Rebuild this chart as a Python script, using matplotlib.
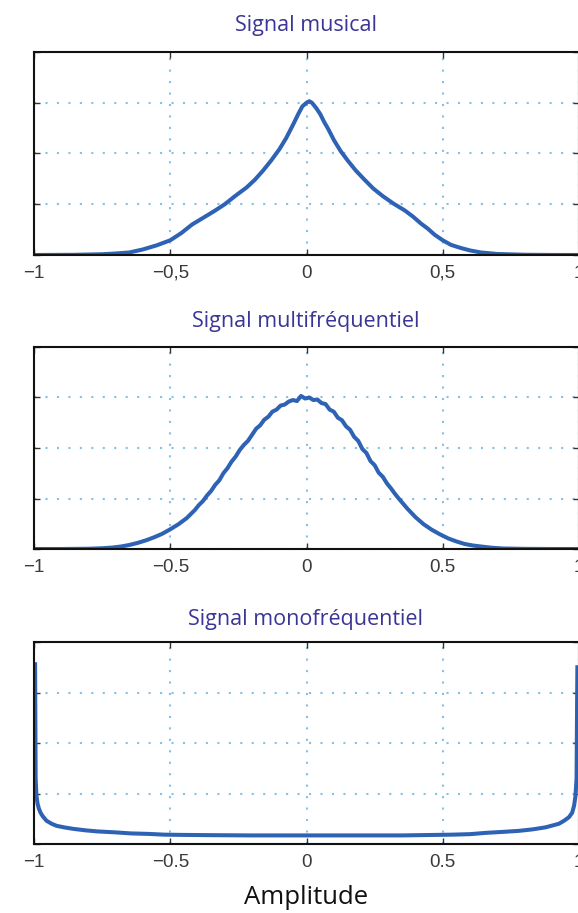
import matplotlib
matplotlib.use("Agg")
import matplotlib.pyplot as plt

# --- data (amplitude histograms, arbitrary y units 0..4)
titles = ["Signal musical", "Signal multifréquentiel", "Signal monofréquentiel"]
x_ticks = [-1, -0.5, 0, 0.5, 1]
tick_labels_comma = ["−1", "−0,5", "0", "0,5", "1"]
tick_labels_point = ["−1", "−0.5", "0", "0.5", "1"]

x_music = [-1.0, -0.85, -0.75, -0.7, -0.65, -0.6, -0.55, -0.5, -0.46, -0.42,
           -0.38, -0.34, -0.3, -0.26, -0.22, -0.19, -0.16, -0.13, -0.1, -0.075,
           -0.05, -0.03, -0.015, 0.0, 0.01, 0.02, 0.035, 0.05, 0.065, 0.08,
           0.1, 0.125, 0.15, 0.18, 0.21, 0.245, 0.28, 0.32, 0.36, 0.39,
           0.42, 0.445, 0.47, 0.5, 0.53, 0.565, 0.6, 0.64, 0.7, 0.8, 0.9, 1.0]
y_music = [0.0, 0.004, 0.015, 0.03, 0.05, 0.11, 0.19, 0.29, 0.43, 0.6,
           0.73, 0.86, 1.0, 1.17, 1.33, 1.48, 1.66, 1.86, 2.08, 2.3,
           2.56, 2.78, 2.93, 3.0, 3.03, 3.0, 2.9, 2.78, 2.62, 2.48,
           2.27, 2.05, 1.87, 1.67, 1.5, 1.31, 1.16, 1.01, 0.88, 0.76,
           0.62, 0.52, 0.4, 0.29, 0.2, 0.14, 0.09, 0.05, 0.02, 0.005, 0.001, 0.0]

x_multi = [-1.0, -0.9, -0.8, -0.75, -0.71, -0.68, -0.65, -0.62, -0.59, -0.56,
           -0.53, -0.5, -0.47, -0.44, -0.41, -0.395, -0.38, -0.365, -0.35, -0.335,
           -0.32, -0.305, -0.29, -0.275, -0.26, -0.245, -0.23, -0.215, -0.2, -0.185,
           -0.17, -0.155, -0.14, -0.125, -0.11, -0.095, -0.08, -0.065, -0.05, -0.035,
           -0.02, -0.005, 0.01, 0.025, 0.04, 0.055, 0.07, 0.085, 0.1, 0.115,
           0.13, 0.145, 0.16, 0.175, 0.19, 0.205, 0.22, 0.235, 0.25, 0.265,
           0.28, 0.295, 0.31, 0.325, 0.34, 0.37, 0.4, 0.43, 0.46, 0.49,
           0.52, 0.55, 0.58, 0.61, 0.64, 0.68, 0.72, 0.8, 0.9, 1.0]
y_multi = [0.0, 0.0, 0.005, 0.015, 0.03, 0.05, 0.08, 0.12, 0.17, 0.23,
           0.3, 0.39, 0.49, 0.61, 0.77, 0.87, 0.95, 1.06, 1.15, 1.27,
           1.36, 1.5, 1.6, 1.73, 1.83, 1.96, 2.06, 2.14, 2.26, 2.38,
           2.45, 2.56, 2.62, 2.72, 2.76, 2.84, 2.86, 2.92, 2.95, 2.93,
           3.03, 2.98, 3.0, 2.95, 2.96, 2.89, 2.87, 2.76, 2.72, 2.6,
           2.55, 2.43, 2.36, 2.22, 2.14, 1.98, 1.9, 1.74, 1.66, 1.51,
           1.43, 1.3, 1.2, 1.09, 0.99, 0.8, 0.63, 0.49, 0.38, 0.29,
           0.21, 0.15, 0.1, 0.07, 0.05, 0.025, 0.01, 0.003, 0.0, 0.0]

x_mono = [-0.996, -0.994, -0.991, -0.987, -0.982, -0.976, -0.968, -0.954, -0.935, -0.917,
          -0.89, -0.856, -0.81, -0.769, -0.7, -0.646, -0.58, -0.522, -0.45, -0.35,
          -0.2, 0.0, 0.2, 0.35, 0.412, 0.534, 0.6, 0.657, 0.72, 0.779,
          0.83, 0.877, 0.905, 0.926, 0.945, 0.963, 0.975, 0.982, 0.987, 0.991, 0.994]
y_mono = [3.56, 1.3, 0.95, 0.8, 0.7, 0.62, 0.55, 0.46, 0.4, 0.36,
          0.33, 0.3, 0.27, 0.25, 0.23, 0.21, 0.2, 0.185, 0.18, 0.175,
          0.17, 0.17, 0.17, 0.17, 0.175, 0.185, 0.195, 0.22, 0.24, 0.26,
          0.29, 0.33, 0.37, 0.4, 0.46, 0.53, 0.62, 0.76, 0.95, 1.3, 3.5]

series = [(x_music, y_music, tick_labels_comma),
          (x_multi, y_multi, tick_labels_point),
          (x_mono, y_mono, tick_labels_point)]

W, H = 578, 913
fig = plt.figure(figsize=(W / 100, H / 100), dpi=100)

# axes boxes in pixels: (top, bottom)
boxes = [(52, 255), (347, 549), (642, 844)]
title_y = [25, 322, 619]
left_px, right_px = 34, 579

line_color = "#2d62b4"
grid_color = "#86c0e2"
title_color = "#3a3596"

for (top, bot), ty, title, (xs, ys, labels) in zip(boxes, title_y, titles, series):
    ax = fig.add_axes([left_px / W, 1 - bot / H, (right_px - left_px) / W, (bot - top) / H])
    ax.plot(xs, ys, color=line_color, lw=2.9, solid_joinstyle="round")
    ax.set_xlim(-1, 1)
    ax.set_ylim(0, 4)
    ax.set_xticks(x_ticks)
    ax.set_xticklabels(labels, fontfamily="Liberation Sans", fontsize=13.5, color="#3a3a3a")
    ax.set_yticks([0, 1, 2, 3, 4])
    ax.set_yticklabels([])
    ax.tick_params(direction="in", top=True, right=True, length=4, width=1.0,
                   color="#333333", pad=7)
    ax.grid(True, color=grid_color, lw=1.5, linestyle=(0, (1, 4.5)))
    for sp in ax.spines.values():
        sp.set_linewidth(1.5)
        sp.set_color("#111111")
    fig.text(0.5 * (left_px + 578) / W, 1 - ty / H, title, ha="center", va="center",
             fontsize=15.5, color=title_color, fontfamily="Open Sans")

fig.text(306 / W, 1 - 897 / H, "Amplitude", ha="center", va="center",
         fontsize=18.5, color="#111111", fontfamily="Open Sans")

fig.savefig("out.png", dpi=100)
